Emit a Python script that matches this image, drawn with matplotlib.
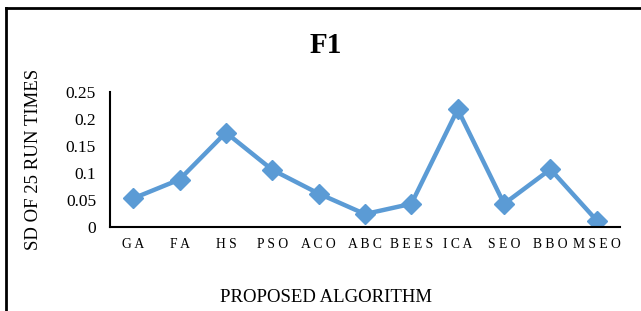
import matplotlib.pyplot as plt
from matplotlib.lines import Line2D

algorithms = ['GA', 'FA', 'HS', 'PSO', 'ACO', 'ABC', 'BEES', 'ICA', 'SEO', 'BBO', 'MSEO']
sd_values = [0.053, 0.088, 0.175, 0.106, 0.062, 0.024, 0.043, 0.218, 0.043, 0.107, 0.012]
y_ticks = [0, 0.05, 0.1, 0.15, 0.2, 0.25]
y_tick_labels = ['0', '0.05', '0.1', '0.15', '0.2', '0.25']

plt.rcParams['font.family'] = ['Liberation Serif', 'DejaVu Serif']

fig = plt.figure(figsize=(6.41, 3.11), dpi=100)
ax = fig.add_axes([0.1716, 0.270, 0.7956, 0.434])

x = list(range(len(algorithms)))
ax.plot(x, sd_values, color='#5B9BD5', linewidth=3.2, marker='D', markersize=10,
        solid_capstyle='round', solid_joinstyle='round')

ax.set_xlim(-0.5, len(algorithms) - 0.5)
ax.set_ylim(0, 0.25)
ax.set_yticks(y_ticks)
ax.set_yticklabels(y_tick_labels, fontsize=12.5)
ax.set_xticks(x)
ax.set_xticklabels([' '.join(a) for a in algorithms], fontsize=9.8)
ax.tick_params(length=0, pad=8)
ax.tick_params(axis='y', pad=10)

for side in ['top', 'right']:
    ax.spines[side].set_visible(False)
ax.spines['left'].set_linewidth(1.5)
ax.spines['bottom'].set_linewidth(1.5)

fig.text(0.508, 0.855, 'F1', ha='center', va='center', fontsize=21, fontweight='bold')
fig.text(0.052, 0.487, 'SD OF 25 RUN TIMES', ha='center', va='center', rotation=90, fontsize=13.5)
fig.text(0.509, 0.045, 'PROPOSED ALGORITHM', ha='center', va='center', fontsize=13.5)

# outer frame (left and top edges only)
fig.add_artist(Line2D([0.0095, 0.0095], [0, 0.975], transform=fig.transFigure, color='black', linewidth=2))
fig.add_artist(Line2D([0.0095, 1.0], [0.975, 0.975], transform=fig.transFigure, color='black', linewidth=2))

fig.savefig('out.png', dpi=100)
